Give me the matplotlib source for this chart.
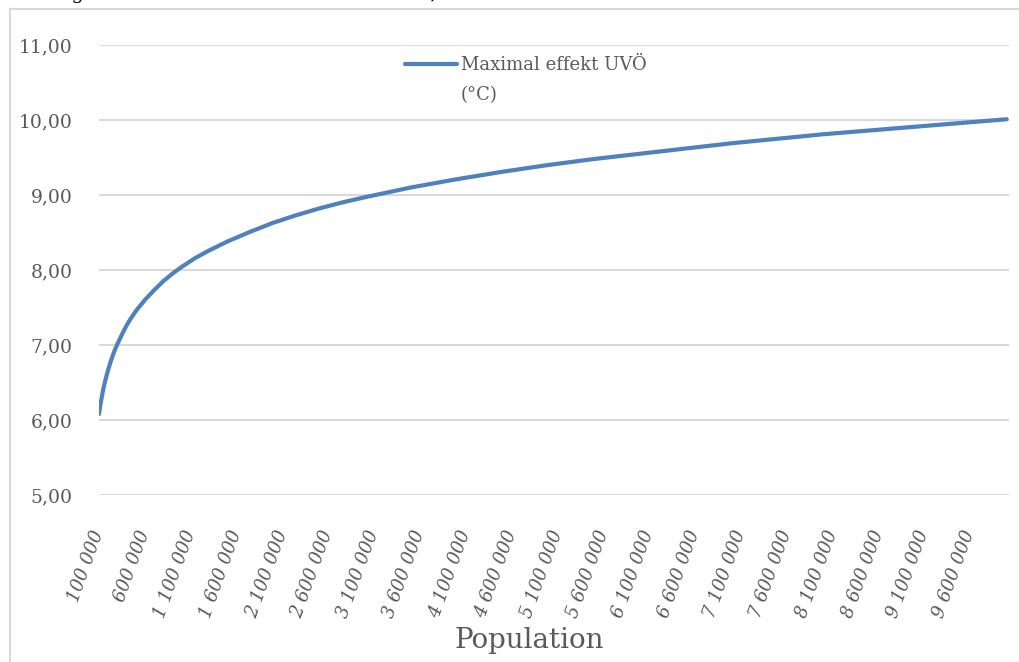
import numpy as np
import matplotlib.pyplot as plt
from matplotlib.lines import Line2D
from matplotlib.ticker import FixedLocator, FuncFormatter

# population (inhabitants) and max temperature effect (°C)
population = [100000, 110000, 120000, 130000, 140000, 150000, 165000, 180000,
              200000, 225000, 250000, 275000, 300000, 350000, 400000, 450000,
              500000, 600000, 700000, 800000, 900000, 1000000, 1150000,
              1300000, 1500000, 1750000, 2000000, 2250000, 2500000, 2750000,
              3000000, 3500000, 4000000, 4500000, 5000000, 5500000, 6000000,
              6500000, 7000000, 7500000, 8000000, 8500000, 9000000, 9500000,
              10000000]
max_effekt = [6.08, 6.16, 6.24, 6.30, 6.37, 6.43, 6.51, 6.58,
              6.67, 6.77, 6.86, 6.94, 7.01, 7.14, 7.26, 7.36,
              7.45, 7.60, 7.73, 7.85, 7.95, 8.04, 8.16,
              8.26, 8.38, 8.51, 8.63, 8.73, 8.82, 8.90,
              8.97, 9.10, 9.21, 9.31, 9.40, 9.48, 9.55,
              9.62, 9.69, 9.75, 9.81, 9.86, 9.91, 9.96,
              10.01]

x_ticks = list(range(100000, 9600001, 500000))
y_ticks = [5, 6, 7, 8, 9, 10, 11]

grey = '#595959'
grid = '#d9d9d9'
blue = '#4f81bd'

plt.rcParams['font.family'] = ['DejaVu Serif']

W, H = 1019, 662
fig = plt.figure(figsize=(W / 100, H / 100), dpi=100)
fig.patch.set_facecolor('white')

# chart frame (left and top edges only show)
fig.add_artist(Line2D([10 / W, 10 / W], [0, 1 - 9 / H], transform=fig.transFigure,
                      color=grid, linewidth=1.5))
fig.add_artist(Line2D([10 / W, 1], [1 - 9 / H, 1 - 9 / H], transform=fig.transFigure,
                      color=grid, linewidth=1.5))
fig.text(12 / W, 1 + 1 / H, 'Ökningen från UVÖ kan komma att vara 7,7 °C.',
         fontsize=14, color='black', va='baseline', ha='left')

ax = fig.add_axes([99 / W, (H - 495) / H, 910 / W, 450 / H])
ax.plot(population, max_effekt, color=blue, linewidth=3,
        solid_capstyle='round', solid_joinstyle='round',
        label='Maximal effekt UVÖ', zorder=3)

ax.set_xlim(100000, 10025000)
ax.set_ylim(5, 11)
ax.yaxis.set_major_locator(FixedLocator(y_ticks))
ax.yaxis.set_major_formatter(FuncFormatter(lambda v, p: f'{v:.2f}'.replace('.', ',')))
ax.xaxis.set_major_locator(FixedLocator(x_ticks))
ax.xaxis.set_major_formatter(FuncFormatter(lambda v, p: f'{int(v):,}'.replace(',', ' ')))

ax.grid(axis='y', color=grid, linewidth=1.5)
ax.set_axisbelow(True)
for s in ax.spines.values():
    s.set_visible(False)
ax.tick_params(axis='both', length=0, colors=grey)
ax.tick_params(axis='y', labelsize=13.5, pad=19)
ax.tick_params(axis='x', labelsize=13, pad=26)
for lbl in ax.get_xticklabels():
    lbl.set_rotation(70)
    lbl.set_rotation_mode('anchor')
    lbl.set_ha('right')
    lbl.set_va('center')
    lbl.set_fontstyle('italic')

fig.text(529 / W, (H - 641) / H, 'Population', fontsize=20, color=grey,
         ha='center', va='center')

leg = ax.legend(loc='center left', bbox_to_anchor=((405 - 99) / 910, (495 - 65) / 450),
                frameon=False, fontsize=13, handlelength=2.9, handletextpad=0.2,
                borderpad=0, borderaxespad=0)
for t in leg.get_texts():
    t.set_color(grey)

fig.canvas.draw()
bb = leg.get_texts()[0].get_window_extent()
fig.text(bb.x0 / W, (bb.y0 + bb.y1) / 2 / H - 30 / H, '(°C)', fontsize=13,
         color=grey, ha='left', va='center')

fig.savefig('out.png', dpi=100)
